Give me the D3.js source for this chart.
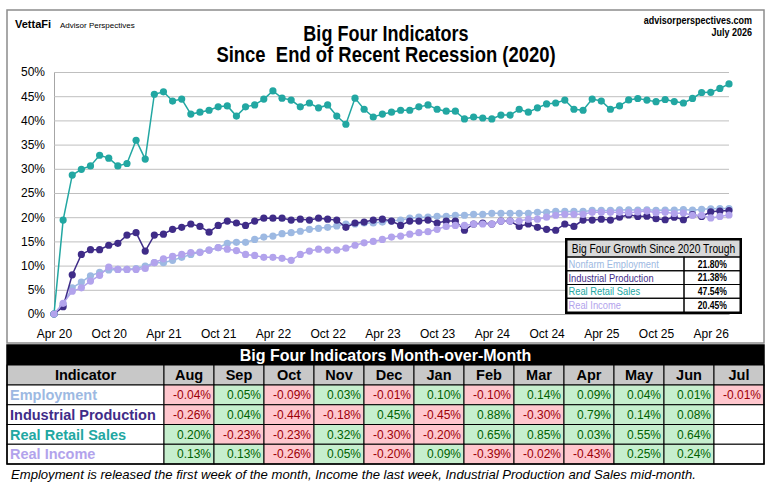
<!DOCTYPE html>
<html>
<head>
  <meta charset="utf-8">
  <title>Big Four Indicators</title>
  <style>
    body { margin: 0; background: #fff; }
    svg { display: block; font-family: "Liberation Sans", Arial, sans-serif; }
    .axis text { font-size: 12px; fill: #000; }
    .yaxis line { stroke: #bfbfbf; }
    .yaxis path, .xaxis path { stroke: #a6a6a6; }
    .xaxis line { display: none; }
  </style>
</head>
<body>
<svg width="774" height="488"></svg>
<script src="https://cdnjs.cloudflare.com/ajax/libs/d3/7.8.5/d3.min.js"></script>
<script>
// monthly cumulative growth since the Apr 2020 trough (%), Apr 20 .. Jun 26
const tickLabels = ["Apr 20","Oct 20","Apr 21","Oct 21","Apr 22","Oct 22","Apr 23","Oct 23","Apr 24","Oct 24","Apr 25","Oct 25","Apr 26"];
const yTicks = [0, 5, 10, 15, 20, 25, 30, 35, 40, 45, 50];

const employment = [0, 2.0, 5.4, 6.6, 7.9, 8.6, 9.1, 9.2, 9.2, 9.4, 9.9, 10.6, 10.6, 11.1, 11.7, 12.3, 12.8, 13.2, 13.7, 14.6,
  14.8, 14.8, 15.4, 15.9, 16.1, 16.6, 16.8, 17.1, 17.5, 17.7, 17.9, 18.2, 18.6, 18.6, 18.8, 18.8, 19.0, 19.2, 19.4, 19.8,
  20.0, 20.0, 20.2, 20.2, 20.4, 20.4, 20.6, 20.6, 20.8, 20.8, 20.8, 20.8, 20.8, 21.0, 21.0, 21.2, 21.2, 21.2, 21.2, 21.4,
  21.4, 21.4, 21.5, 21.53, 21.48, 21.54, 21.43, 21.47, 21.46, 21.58, 21.46, 21.63, 21.74, 21.79, 21.80];
const industrial = [0, 1.5, 8.1, 12.3, 13.3, 13.3, 14.2, 14.6, 16.3, 16.8, 13.0, 16.3, 16.5, 17.5, 17.9, 18.6, 18.1, 16.9, 18.3, 19.2,
  18.8, 18.3, 19.2, 19.8, 19.8, 19.8, 19.4, 19.6, 19.4, 19.8, 19.6, 19.4, 17.9, 18.8, 19.0, 19.4, 19.6, 19.2, 18.3, 19.2,
  19.2, 19.4, 18.8, 19.2, 19.2, 17.3, 18.6, 18.8, 18.6, 19.2, 19.2, 18.1, 18.6, 17.9, 17.5, 17.3, 18.6, 18.1, 19.4, 19.4,
  19.6, 19.4, 20.0, 20.48, 20.17, 20.22, 19.69, 19.47, 20.01, 19.47, 20.52, 20.16, 21.11, 21.28, 21.38];
const retail = [0, 19.4, 28.7, 29.9, 30.6, 32.8, 32.2, 30.6, 31.1, 35.9, 32.0, 45.4, 45.9, 44.0, 44.4, 41.3, 41.7, 42.1, 42.8, 43.0,
  40.9, 42.8, 43.2, 44.4, 46.1, 44.6, 44.2, 42.8, 43.6, 42.6, 43.2, 40.9, 39.2, 44.6, 42.3, 40.7, 41.3, 41.7, 42.1, 42.1,
  42.8, 43.2, 42.3, 41.9, 41.9, 40.3, 40.7, 40.5, 40.3, 41.1, 41.1, 42.3, 41.7, 42.6, 43.4, 43.6, 44.2, 42.3, 42.1, 44.4,
  44.0, 42.3, 43.0, 44.23, 44.52, 44.19, 43.86, 44.32, 43.89, 43.60, 44.53, 45.76, 45.80, 46.60, 47.54];
const income = [0, 2.2, 4.7, 5.4, 6.8, 8.0, 9.7, 9.2, 9.2, 9.2, 9.4, 10.6, 11.4, 11.9, 12.3, 12.7, 12.7, 13.2, 13.7, 13.4,
  13.1, 12.3, 12.1, 11.7, 11.7, 11.5, 11.1, 12.3, 13.0, 13.4, 13.2, 13.2, 13.6, 14.2, 14.7, 15.0, 15.4, 15.9, 16.1, 16.5,
  16.8, 17.0, 17.5, 18.1, 18.3, 18.3, 18.6, 18.6, 18.6, 19.2, 19.2, 19.2, 19.6, 19.6, 20.0, 20.4, 20.6, 20.6, 20.6, 21.0,
  21.0, 21.0, 21.0, 20.94, 21.10, 21.26, 20.94, 21.00, 20.76, 20.87, 20.40, 20.38, 19.86, 20.16, 20.45];

const legendNames = ["Nonfarm Employment", "Industrial Production", "Real Retail Sales", "Real Income"];
const growthTotals = [21.80, 21.38, 47.54, 20.45];

// month-over-month table (%)
const rowNames = ["Employment", "Industrial Production", "Real Retail Sales", "Real Income"];
const momMonths = ["Aug","Sep","Oct","Nov","Dec","Jan","Feb","Mar","Apr","May","Jun","Jul"];
const momEmployment = [-0.04, 0.05, -0.09, 0.03, -0.01, 0.10, -0.10, 0.14, 0.09, 0.04, 0.01, -0.01];
const momIndustrial = [-0.26, 0.04, -0.44, -0.18, 0.45, -0.45, 0.88, -0.30, 0.79, 0.14, 0.08, null];
const momRetail = [0.20, -0.23, -0.23, 0.32, -0.30, -0.20, 0.65, 0.85, 0.03, 0.55, 0.64, null];
const momIncome = [0.13, 0.13, -0.26, 0.05, -0.20, 0.09, -0.39, -0.02, -0.43, 0.25, 0.24, null];

const colors = ["#9db9e2", "#3f2c88", "#22a7a2", "#b2a3ec"];
const series = [employment, industrial, retail, income];
const momRows = [momEmployment, momIndustrial, momRetail, momIncome];

const svg = d3.select("svg");

// no narrow font installed: squeeze Liberation Sans horizontally
function narrow(parent, x, y, size, txt) {
  return parent.append("text")
    .attr("transform", "translate(" + x + "," + y + ") scale(0.82,1)")
    .attr("font-size", size)
    .text(txt);
}

// frame around the chart
svg.append("rect")
   .attr("x", 7).attr("y", 10).attr("width", 757).attr("height", 333)
   .attr("fill", "none").attr("stroke", "#8c8c8c").attr("stroke-width", 1.5);

// header texts
svg.append("text").attr("x", 15).attr("y", 28)
   .attr("font-size", 11).attr("font-weight", "bold").text("VettaFi");
svg.append("text").attr("x", 60).attr("y", 28)
   .attr("font-size", 8).text("Advisor Perspectives");
narrow(svg, 386, 40.5, 22, "Big Four Indicators")
   .attr("text-anchor", "middle").attr("font-weight", "bold");
narrow(svg, 386, 61.5, 22.5, "Since  End of Recent Recession (2020)")
   .attr("text-anchor", "middle").attr("font-weight", "bold")
   .attr("xml:space", "preserve").style("white-space", "pre");
narrow(svg, 752, 24, 11, "advisorperspectives.com")
   .attr("text-anchor", "end").attr("font-weight", "bold");
narrow(svg, 752, 36, 11, "July 2026")
   .attr("text-anchor", "end").attr("font-weight", "bold");

// scales
let x = d3.scaleLinear().domain([0, employment.length - 1]).range([54, 729]);
let y = d3.scaleLinear().domain([0, 50]).range([314, 72]);

svg.append("g")
   .attr("class", "axis yaxis")
   .attr("transform", "translate(54,0)")
   .call(d3.axisLeft(y).tickValues(yTicks).tickFormat(d => d + "%")
           .tickSize(-(729 - 54)).tickSizeOuter(0).tickPadding(9));

svg.append("g")
   .attr("class", "axis xaxis")
   .attr("transform", "translate(0,314)")
   .call(d3.axisBottom(x).tickValues(d3.range(0, employment.length, 6))
           .tickFormat((d, i) => tickLabels[i]).tickSizeOuter(0).tickPadding(9));

let line = d3.line().x((d, i) => x(i)).y(d => y(d));

series.forEach((vals, k) => {
  let g = svg.append("g");
  g.append("path")
   .datum(vals)
   .attr("d", line)
   .attr("fill", "none")
   .attr("stroke", colors[k])
   .attr("stroke-width", 1.5);
  g.selectAll("circle")
   .data(vals)
   .enter().append("circle")
   .attr("cx", (d, i) => x(i))
   .attr("cy", d => y(d))
   .attr("r", 3.6)
   .attr("fill", colors[k]);
});

// inset growth table
let lx = 567, ly = 240, lw1 = 117, lw2 = 56, lh0 = 17, lh = 13.75;
let lg = svg.append("g");
lg.append("rect").attr("x", lx).attr("y", ly).attr("width", lw1 + lw2).attr("height", lh0 + 4 * lh)
  .attr("fill", "#fff");
lg.append("rect").attr("x", lx).attr("y", ly).attr("width", lw1 + lw2).attr("height", lh0)
  .attr("fill", "#d9d9d9").attr("stroke", "#000").attr("stroke-width", 1);
narrow(lg, lx + (lw1 + lw2) / 2, ly + lh0 / 2 + 4.5, 12.5, "Big Four Growth Since 2020 Trough")
  .attr("text-anchor", "middle");
legendNames.forEach((name, i) => {
  let ry = ly + lh0 + i * lh;
  lg.append("rect").attr("x", lx).attr("y", ry).attr("width", lw1).attr("height", lh)
    .attr("fill", "none").attr("stroke", "#000");
  lg.append("rect").attr("x", lx + lw1).attr("y", ry).attr("width", lw2).attr("height", lh)
    .attr("fill", "none").attr("stroke", "#000");
  narrow(lg, lx + 1.5, ry + lh / 2 + 4, 11.4, name).attr("fill", colors[i]);
  narrow(lg, lx + lw1 + lw2 - 13, ry + lh / 2 + 3.8, 10.5, growthTotals[i].toFixed(2) + "%")
    .attr("text-anchor", "end").attr("font-weight", "bold");
});
lg.append("rect").attr("x", lx - 1).attr("y", ly - 1).attr("width", lw1 + lw2 + 2).attr("height", lh0 + 4 * lh + 2)
  .attr("fill", "none").attr("stroke", "#000").attr("stroke-width", 2);

// month-over-month table
let tx = 7, tw0 = 157, tcw = 50, ty = 345, th0 = 20, thh = 20, trh = 19.75;
let tw = tw0 + tcw * momMonths.length;
let t = svg.append("g");
t.append("rect").attr("x", tx).attr("y", ty).attr("width", tw).attr("height", th0).attr("fill", "#000");
t.append("text").attr("x", tx + tw / 2).attr("y", ty + th0 / 2).attr("dy", "0.36em")
  .attr("text-anchor", "middle").attr("font-size", 16).attr("font-weight", "bold").attr("fill", "#fff")
  .text("Big Four Indicators Month-over-Month");

let hy = ty + th0;
let heads = ["Indicator"].concat(momMonths);
let colX = i => i === 0 ? tx : tx + tw0 + (i - 1) * tcw;
let colW = i => i === 0 ? tw0 : tcw;
t.selectAll("rect.head").data(heads).enter().append("rect").attr("class", "head")
  .attr("x", (d, i) => colX(i)).attr("y", hy).attr("width", (d, i) => colW(i)).attr("height", thh)
  .attr("fill", "#c8c8c8").attr("stroke", "#000");
t.selectAll("text.head").data(heads).enter().append("text").attr("class", "head")
  .attr("x", (d, i) => colX(i) + colW(i) / 2).attr("y", hy + thh / 2).attr("dy", "0.36em")
  .attr("text-anchor", "middle").attr("font-size", 14.5).attr("font-weight", "bold").text(d => d);

let rows = t.selectAll("g.mrow").data(momRows).enter().append("g").attr("class", "mrow")
  .attr("transform", (d, r) => "translate(0," + (hy + thh + r * trh) + ")");
rows.append("rect").attr("x", tx).attr("y", 0).attr("width", tw0).attr("height", trh)
  .attr("fill", "#fff").attr("stroke", "#000");
rows.append("text").attr("x", tx + 3).attr("y", trh / 2).attr("dy", "0.36em")
  .attr("font-size", 14.5).attr("font-weight", "bold").attr("fill", (d, r) => colors[r])
  .text((d, r) => rowNames[r]);
let cells = rows.selectAll("g.cell").data(d => d).enter().append("g").attr("class", "cell");
cells.append("rect").attr("x", (d, i) => colX(i + 1)).attr("y", 0).attr("width", tcw).attr("height", trh)
  .attr("fill", d => d === null ? "#fff" : (d < 0 ? "#ffc7ce" : "#c6efce")).attr("stroke", "#000");
cells.append("text").attr("x", (d, i) => colX(i + 1) + tcw - 3).attr("y", trh / 2).attr("dy", "0.36em")
  .attr("text-anchor", "end").attr("font-size", 12)
  .attr("fill", d => d < 0 ? "#9c0006" : "#006100")
  .text(d => d === null ? "" : d.toFixed(2) + "%");
t.append("rect").attr("x", tx).attr("y", ty).attr("width", tw).attr("height", th0 + thh + 4 * trh)
  .attr("fill", "none").attr("stroke", "#000").attr("stroke-width", 1.5);

svg.append("text").attr("x", 11).attr("y", 479)
   .attr("font-size", 13.1).attr("font-style", "italic")
   .text("Employment is released the first week of the month, Income the last week, Industrial Production and Sales mid-month.");
</script>
</body>
</html>
